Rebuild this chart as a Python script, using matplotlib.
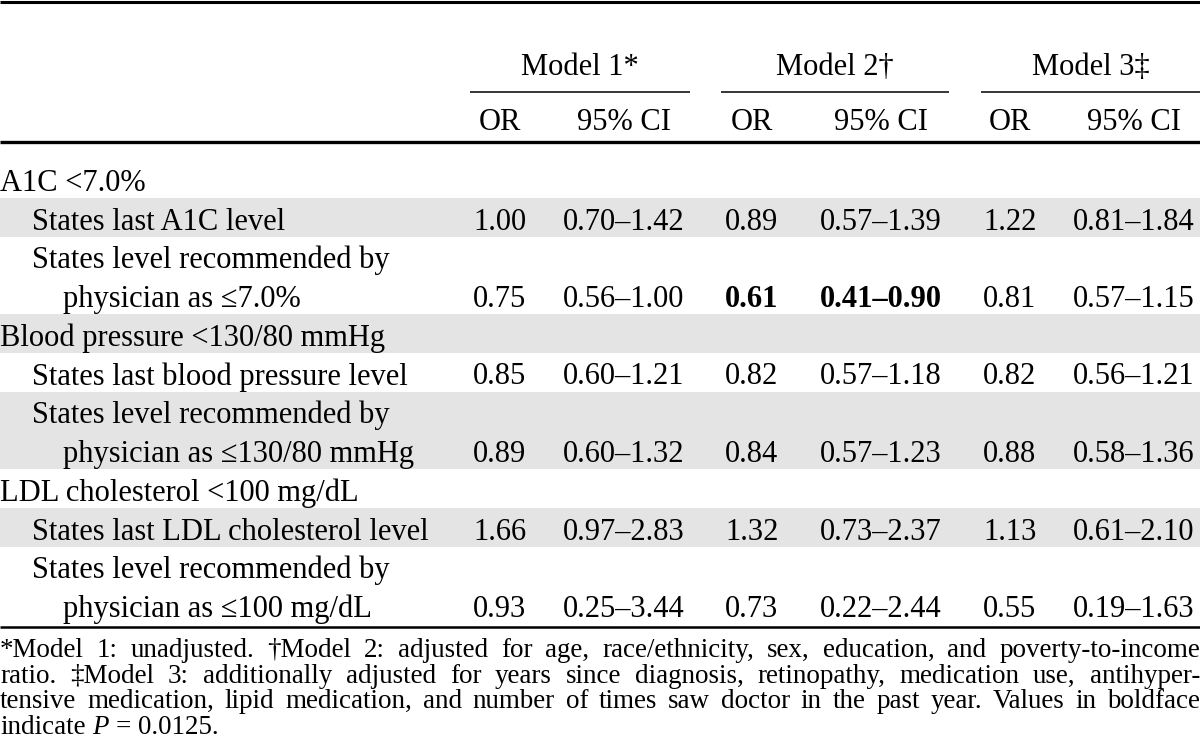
import matplotlib
matplotlib.use("Agg")
import matplotlib.pyplot as plt

# table content
row_labels = [
    ["A1C <7.0%"],
    ["States last A1C level"],
    ["States level recommended by", "physician as \u22647.0%"],
    ["Blood pressure <130/80 mmHg"],
    ["States last blood pressure level"],
    ["States level recommended by", "physician as \u2264130/80 mmHg"],
    ["LDL cholesterol <100 mg/dL"],
    ["States last LDL cholesterol level"],
    ["States level recommended by", "physician as \u2264100 mg/dL"],
]
is_group = [True, False, False, True, False, False, True, False, False]
shaded = [False, True, False, True, False, True, False, True, False]

or1 = ["", "1.00", "0.75", "", "0.85", "0.89", "", "1.66", "0.93"]
ci1 = ["", "0.70\u20131.42", "0.56\u20131.00", "", "0.60\u20131.21", "0.60\u20131.32", "", "0.97\u20132.83", "0.25\u20133.44"]
or2 = ["", "0.89", "0.61", "", "0.82", "0.84", "", "1.32", "0.73"]
ci2 = ["", "0.57\u20131.39", "0.41\u20130.90", "", "0.57\u20131.18", "0.57\u20131.23", "", "0.73\u20132.37", "0.22\u20132.44"]
or3 = ["", "1.22", "0.81", "", "0.82", "0.88", "", "1.13", "0.55"]
ci3 = ["", "0.81\u20131.84", "0.57\u20131.15", "", "0.56\u20131.21", "0.58\u20131.36", "", "0.61\u20132.10", "0.19\u20131.63"]
bold_cells = {(2, 2), (2, 3)}  # (row, value column)

models = ["Model 1*", "Model 2\u2020", "Model 3\u2021"]
sub_headers = ["OR", "95% CI"]

footnote = [
    "*Model 1: unadjusted. \u2020Model 2: adjusted for age, race/ethnicity, sex, education, and poverty-to-income",
    "ratio. \u2021Model 3: additionally adjusted for years since diagnosis, retinopathy, medication use, antihyper-",
    "tensive medication, lipid medication, and number of times saw doctor in the past year. Values in boldface",
]

FONT = ["Liberation Serif", "DejaVu Serif"]
FS = 22

fig = plt.figure(figsize=(12, 7.55), dpi=100)
ax = fig.add_axes([0, 0, 1, 1])
ax.set_xlim(0, 1200)
ax.set_ylim(755, 0)
ax.axis("off")
renderer = fig.canvas.get_renderer()

# rules
ax.plot([0, 1200], [1.5, 1.5], color="black", lw=2.2, solid_capstyle="butt")
ax.plot([0, 1200], [142, 142], color="black", lw=2.4, solid_capstyle="butt")
ax.plot([0, 1200], [627, 627], color="black", lw=1.8, solid_capstyle="butt")

# header
spans = [(470, 690), (721, 949), (981, 1200)]
col_x = [500, 624, 752, 881, 1010, 1134]
for (a, b), m in zip(spans, models):
    ax.plot([a, b], [92, 92], color="black", lw=1.1, solid_capstyle="butt")
    ax.text((a + b) / 2, 75, m, ha="center", va="baseline", fontsize=FS, family=FONT)
for i, x in enumerate(col_x):
    ax.text(x, 130, sub_headers[i % 2], ha="center", va="baseline", fontsize=FS, family=FONT)

# body rows
unit = 38.75
y = 159
cols = [or1, ci1, or2, ci2, or3, ci3]
for r, lines in enumerate(row_labels):
    h = unit * len(lines)
    if shaded[r]:
        ax.axhspan(y, y + h, color="#e4e4e4", lw=0, zorder=0)
    bottom = y + h - 7
    for k, line in enumerate(lines):
        base = bottom - unit * (len(lines) - 1 - k)
        if is_group[r]:
            x = 0
        else:
            x = 32 if k == 0 else 63
        ax.text(x, base, line, ha="left", va="baseline", fontsize=FS, family=FONT)
    for c, vals in enumerate(cols):
        if vals[r]:
            w = "bold" if (r, c) in bold_cells else "normal"
            ax.text(col_x[c], bottom, vals[r], ha="center", va="baseline",
                    fontsize=FS, family=FONT, fontweight=w)
    y += h


def width(s, size, **kw):
    t = ax.text(0, 0, s, fontsize=size, family=FONT, **kw)
    wd = t.get_window_extent(renderer).width
    t.remove()
    return wd


# footnote size chosen so the longest line nearly fills the width
FN = 0.96 * 10 * 1185 / max(width(l, 10) for l in footnote)

# footnote, justified
fy = [657, 683, 708, 734]
for line, yy in zip(footnote, fy):
    words = line.split(" ")
    ws = [width(w, FN) for w in words]
    gap = (1200 - sum(ws)) / (len(words) - 1)
    x = 0
    for w, wd in zip(words, ws):
        ax.text(x, yy, w, ha="left", va="baseline", fontsize=FN, family=FONT)
        x += wd + gap

sp = width("a a", FN) - width("aa", FN)
x = 0
for piece, style in [("indicate", "normal"), ("P", "italic"), ("=", "normal"), ("0.0125.", "normal")]:
    ax.text(x, fy[3], piece, ha="left", va="baseline", fontsize=FN, family=FONT, fontstyle=style)
    x += width(piece, FN, fontstyle=style) + sp

fig.savefig("out.png", dpi=100)
